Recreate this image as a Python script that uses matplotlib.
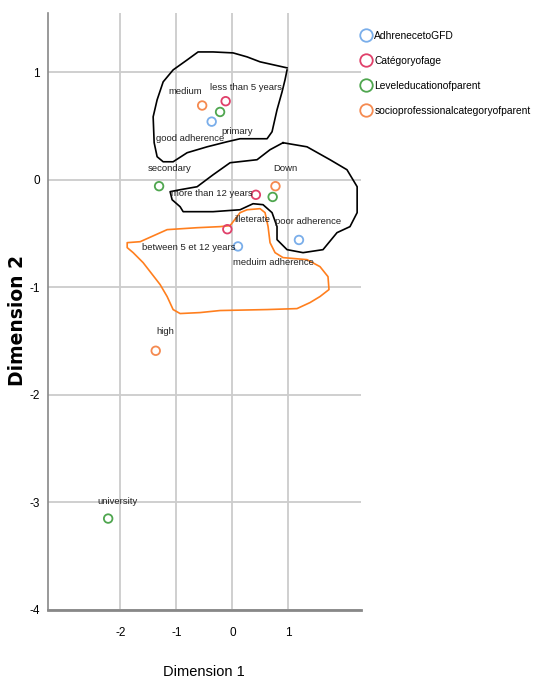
import matplotlib
matplotlib.use("Agg")
import matplotlib.pyplot as plt
from matplotlib.lines import Line2D

# === Données ===
adherence_labels = ["good adherence", "meduim adherence", "poor adherence"]
adherence_x = [-0.37, 0.10, 1.19]
adherence_y = [0.54, -0.62, -0.56]

age_labels = ["less than 5 years", "more than 12 years", "between 5 et 12 years"]
age_x = [-0.12, 0.42, -0.09]
age_y = [0.73, -0.14, -0.46]

education_labels = ["primary", "secondary", "university", "illeterate"]
education_x = [-0.22, -1.31, -2.22, 0.72]
education_y = [0.63, -0.06, -3.15, -0.16]

socio_labels = ["medium", "Down", "high"]
socio_x = [-0.54, 0.77, -1.37]
socio_y = [0.69, -0.06, -1.59]

group_names = ["AdhrenecetoGFD", "Catégoryofage", "Leveleducationofparent",
               "socioprofessionalcategoryofparent"]

x_ticks = [-2, -1, 0, 1]
y_ticks = [-4, -3, -2, -1, 0, 1]

# contours dessinés à la main (coordonnées des dimensions)
top_loop_x = [0.977, 0.495, 0.263, 0.013, -0.345, -0.613, -0.808, -1.059, -1.237, -1.345,
              -1.416, -1.398, -1.345, -1.237, -1.059, -0.809, -0.452, -0.095, 0.138, 0.620,
              0.709, 0.798, 0.888, 0.941, 0.977]
top_loop_y = [1.040, 1.096, 1.142, 1.179, 1.188, 1.188, 1.114, 1.021, 0.910, 0.743,
              0.585, 0.344, 0.214, 0.167, 0.167, 0.251, 0.306, 0.353, 0.381, 0.381,
              0.446, 0.650, 0.817, 0.929, 1.020]

mid_loop_x = [0.905, 1.334, 1.745, 2.048, 2.230, 2.230, 2.102, 1.870, 1.620, 1.263,
              0.977, 0.798, 0.798, 0.709, 0.548, 0.370, 0.138, -0.345, -0.880, -0.934,
              -1.077, -1.113, -0.934, -0.630, -0.345, -0.041, 0.441, 0.673, 0.905]
mid_loop_y = [0.344, 0.306, 0.186, 0.093, -0.065, -0.306, -0.436, -0.492, -0.650, -0.678,
              -0.650, -0.557, -0.436, -0.306, -0.232, -0.223, -0.279, -0.297, -0.297, -0.251,
              -0.186, -0.111, -0.093, -0.065, 0.046, 0.158, 0.186, 0.279, 0.344]

orange_loop_x = [-0.041, 0.138, 0.263, 0.495, 0.584, 0.638, 0.673, 0.763, 0.905, 1.334,
                 1.566, 1.709, 1.727, 1.566, 1.388, 1.155, 0.620, -0.220, -0.577, -0.934,
                 -1.059, -1.166, -1.291, -1.595, -1.773, -1.880, -1.880, -1.648, -1.166,
                 -0.630, -0.220, -0.041]
orange_loop_y = [-0.427, -0.306, -0.279, -0.269, -0.306, -0.436, -0.585, -0.678, -0.724, -0.743,
                 -0.808, -0.901, -1.021, -1.086, -1.142, -1.198, -1.207, -1.216, -1.235, -1.244,
                 -1.207, -1.086, -0.975, -0.771, -0.678, -0.631, -0.585, -0.576, -0.464,
                 -0.446, -0.436, -0.427]

# === Style ===
colors = ["#7aaeea", "#e0406a", "#4fa64f", "#f58a50"]
sans = ["Liberation Sans", "DejaVu Sans"]

# décalages des étiquettes (pixels) : dx, dy
offsets = {
    "good adherence": (-22, -17), "meduim adherence": (35, -16), "poor adherence": (9, 18),
    "less than 5 years": (20, 14), "more than 12 years": (-44, 1),
    "between 5 et 12 years": (-39, -18),
    "primary": (17, -20), "secondary": (10, 18), "university": (9, 17), "illeterate": (-20, -23),
    "medium": (-17, 14), "Down": (10, 18), "high": (10, 19),
}

fig = plt.figure(figsize=(5.41, 6.84), dpi=100)
ax = fig.add_axes([48.3 / 541, 1 - 610 / 684, (360.5 - 48.3) / 541, (610 - 13) / 684])

ax.set_xlim(-3.29, 2.29)
ax.set_ylim(-4, 1.55)
ax.set_xticks(x_ticks)
ax.set_yticks(y_ticks)
ax.set_xticklabels([str(t) for t in x_ticks], family=sans, fontsize=8.5)
ax.set_yticklabels([str(t) for t in y_ticks], family=sans, fontsize=8.5)
ax.tick_params(length=0, pad=12)
ax.tick_params(axis="y", pad=6)
ax.grid(True, color="#cccccc", linewidth=1.3)
ax.set_axisbelow(True)
for side in ["top", "right"]:
    ax.spines[side].set_visible(False)
ax.spines["left"].set_color("#888888")
ax.spines["left"].set_linewidth(1.2)
ax.spines["bottom"].set_color("#888888")
ax.spines["bottom"].set_linewidth(2)

ax.plot(top_loop_x, top_loop_y, color="black", linewidth=1.2, zorder=2)
ax.plot(mid_loop_x, mid_loop_y, color="black", linewidth=1.2, zorder=2)
ax.plot(orange_loop_x, orange_loop_y, color="#ff7f1e", linewidth=1.2, zorder=2)

groups = [
    (adherence_x, adherence_y, adherence_labels),
    (age_x, age_y, age_labels),
    (education_x, education_y, education_labels),
    (socio_x, socio_y, socio_labels),
]
for (xs, ys, labels), col in zip(groups, colors):
    ax.scatter(xs, ys, s=38, facecolors="none", edgecolors=col, linewidths=1.3, zorder=3)
    for x, y, lab in zip(xs, ys, labels):
        dx, dy = offsets[lab]
        ax.annotate(lab, (x, y), xytext=(dx, dy), textcoords="offset pixels",
                    ha="center", va="center", fontsize=6.8, family=sans,
                    color="#222222", zorder=4)

fig.text(204 / 541, 1 - 672 / 684, "Dimension 1", ha="center", va="center",
         fontsize=10.5, family=sans)
fig.text(18 / 541, 1 - 320 / 684, "Dimension 2", ha="center", va="center",
         rotation=90, fontsize=13.5, fontweight="bold", family="DejaVu Sans")

handles = [Line2D([], [], linestyle="none", marker="o", markersize=9,
                  markerfacecolor="none", markeredgecolor=c, markeredgewidth=1.3)
           for c in colors]
fig.legend(handles, group_names, loc="upper left", bbox_to_anchor=(363 / 541, 1 - 31 / 684),
           frameon=False, handlelength=0.6, handletextpad=0.5, borderpad=0, borderaxespad=0,
           labelspacing=1.45, prop={"family": sans, "size": 7.4})

fig.savefig("out.png", dpi=100)
